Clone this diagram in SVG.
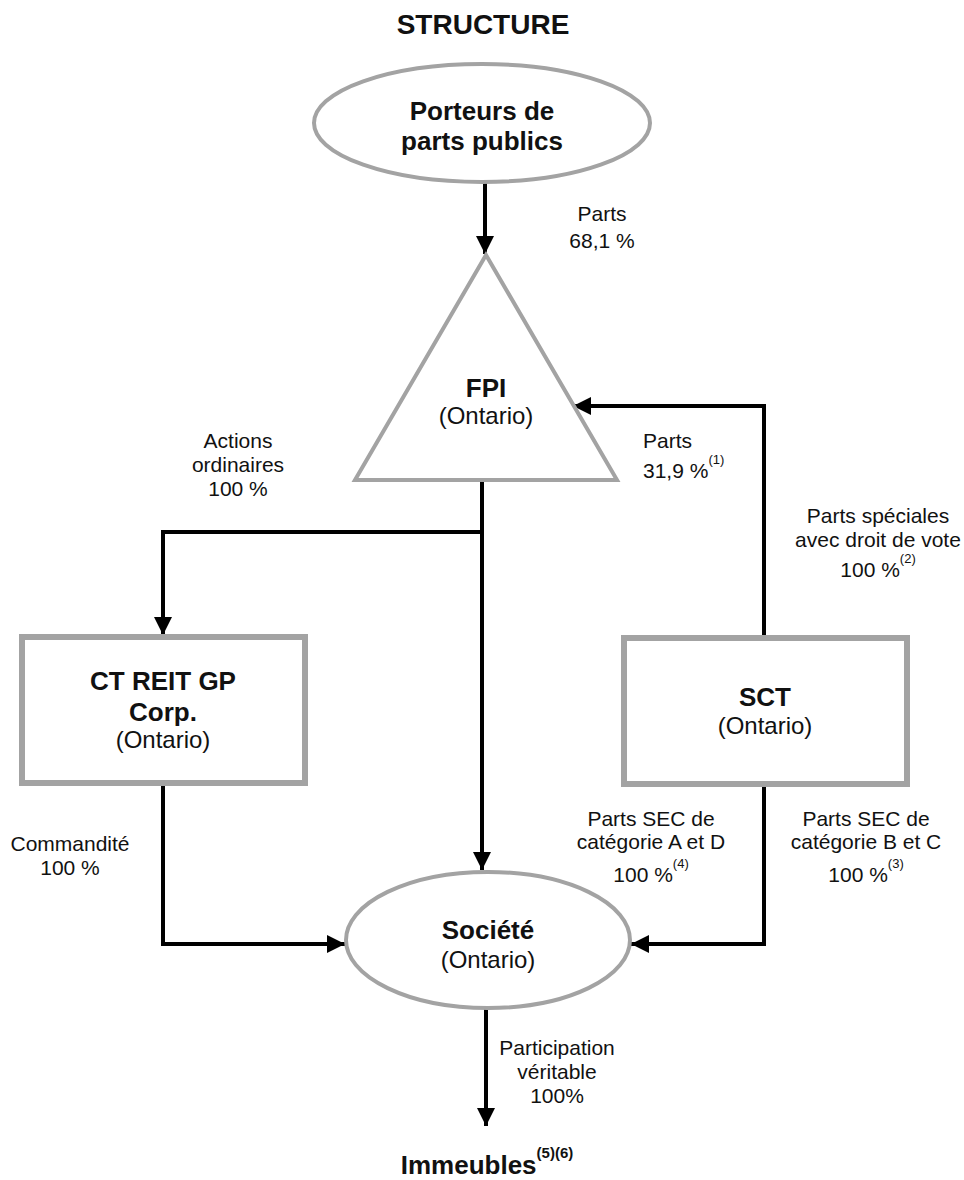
<svg xmlns="http://www.w3.org/2000/svg" width="964" height="1180" viewBox="0 0 964 1180">
<style>
text{font-family:"Liberation Sans",Arial,sans-serif;fill:#111;text-anchor:middle}
.t{font-size:28px;font-weight:bold}
.b{font-size:26px;font-weight:bold}
.o{font-size:24px}
.l{font-size:21px}
.s{font-size:13px}
.sb{font-size:15px;font-weight:bold}
.shape{fill:#fff;stroke:#a3a3a3;stroke-width:4}
.box{fill:#fff;stroke:#a3a3a3;stroke-width:6}
.ca{fill:none;stroke:#000;stroke-width:4;marker-end:url(#ah)}
</style>
<defs>
<marker id="ah" markerUnits="userSpaceOnUse" markerWidth="20" markerHeight="20" refX="18" refY="9" orient="auto">
<path d="M0,0 L18,9 L0,18 z" fill="#000"/>
</marker>
</defs>
<rect width="964" height="1180" fill="#fff"/>
<text class="t" x="483" y="34">STRUCTURE</text>

<g id="connectors">
<path class="ca" d="M485,183 V254"/>
<path class="ca" d="M764,637 V406 H573"/>
<path class="ca" d="M482,480 V870"/>
<path class="ca" d="M482,532 H163 V635"/>
<path class="ca" d="M163,783 V944 H345"/>
<path class="ca" d="M764,784 V944 H631"/>
<path class="ca" d="M486,1008 V1126"/>
</g>

<g id="porteurs">
<ellipse class="shape" cx="482" cy="123" rx="168" ry="59"/>
<text class="b" x="482" y="120">Porteurs de</text>
<text class="b" x="482" y="150">parts publics</text>
</g>

<g id="fpi">
<polygon class="shape" points="486,255 355,480 617,480"/>
<text class="b" x="486" y="397">FPI</text>
<text class="o" x="486" y="424">(Ontario)</text>
</g>

<g id="ctreit">
<rect class="box" x="22" y="637" width="283" height="146"/>
<text class="b" x="163" y="690">CT REIT GP</text>
<text class="b" x="163" y="721">Corp.</text>
<text class="o" x="163" y="748">(Ontario)</text>
</g>

<g id="sct">
<rect class="box" x="624" y="638" width="283" height="146"/>
<text class="b" x="765" y="706">SCT</text>
<text class="o" x="765" y="734">(Ontario)</text>
</g>

<g id="societe">
<ellipse class="shape" cx="488" cy="940" rx="142" ry="68"/>
<text class="b" x="488" y="939">Société</text>
<text class="o" x="488" y="968">(Ontario)</text>
</g>

<g id="immeubles">
<text class="b" x="487" y="1174">Immeubles<tspan class="sb" dy="-16">(5)(6)</tspan></text>
</g>

<g id="labels">
<text class="l" x="602" y="221">Parts</text>
<text class="l" x="602" y="248">68,1 %</text>
<text class="l" x="643" y="448" style="text-anchor:start">Parts</text>
<text class="l" x="643" y="478" style="text-anchor:start">31,9 %<tspan class="s" dy="-14">(1)</tspan></text>
<text class="l" x="238" y="448">Actions</text>
<text class="l" x="238" y="472">ordinaires</text>
<text class="l" x="238" y="496">100 %</text>
<text class="l" x="878" y="523">Parts spéciales</text>
<text class="l" x="878" y="547">avec droit de vote</text>
<text class="l" x="878" y="577">100 %<tspan class="s" dy="-14">(2)</tspan></text>
<text class="l" x="70" y="851">Commandité</text>
<text class="l" x="70" y="875">100 %</text>
<text class="l" x="651" y="826">Parts SEC de</text>
<text class="l" x="651" y="849">catégorie A et D</text>
<text class="l" x="651" y="882">100 %<tspan class="s" dy="-14">(4)</tspan></text>
<text class="l" x="866" y="826">Parts SEC de</text>
<text class="l" x="866" y="849">catégorie B et C</text>
<text class="l" x="866" y="882">100 %<tspan class="s" dy="-14">(3)</tspan></text>
<text class="l" x="557" y="1055">Participation</text>
<text class="l" x="557" y="1079">véritable</text>
<text class="l" x="557" y="1103">100%</text>
</g>
</svg>
